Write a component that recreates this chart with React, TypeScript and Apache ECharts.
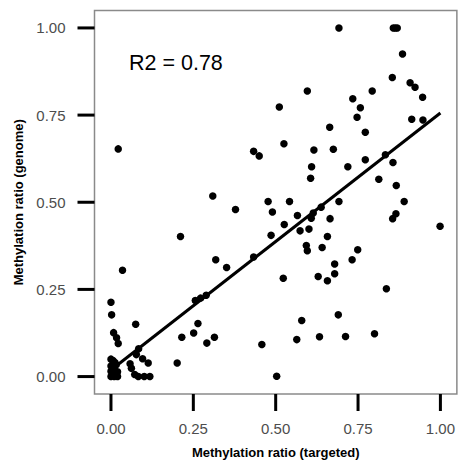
import React, { useEffect, useRef } from "react";
import * as echarts from "echarts";

// Methylation ratio (targeted) — x values
const targeted = [
  0.022, 0.309, 0.596, 0.511, 0.664, 0.433, 0.45, 0.525, 0.616, 0.675, 0.609, 0.606, 0.477, 0.542,
  0.692, 0.857, 0.863, 0.869, 0.885, 0.854, 0.908, 0.923, 0.946, 0.793, 0.734, 0.757, 0.747, 0.913,
  0.947, 0.772, 0.833, 0.772, 0.856, 0.719, 0.813, 0.866, 0.692, 0.89, 0.378,
  0.49, 0.566, 0.614, 0.608, 0.638, 0.665, 0.526, 0.486, 0.574, 0.601, 0.657, 0.593, 0.596, 0.641,
  0.433, 0.318, 0.351, 0.523, 0.629, 0.657, 0.679, 0.679, 0.579, 0.458, 0.564, 0.633, 0.503, 0.69,
  0.865, 0.855, 0.999, 0.749, 0.732, 0.836, 0.712, 0.8,
  0.211, 0.035, 0.0, 0.002, 0.075, 0.008, 0.017, 0.022, 0.256, 0.272, 0.289, 0.264, 0.215, 0.251,
  0.291, 0.314, 0.201, 0.084, 0.077, 0.096, 0.113, 0.058, 0.062, 0.072, 0.083, 0.101, 0.118,
  0.0, 0.006, 0.012, 0.016, 0.0, 0.01, 0.0, 0.02, 0.006, 0.0, 0.01, 0.02, 0.014, 0.004,
];

// Methylation ratio (genome) — y values
const genome = [
  0.653, 0.518, 0.819, 0.773, 0.715, 0.646, 0.633, 0.668, 0.65, 0.652, 0.602, 0.569, 0.502, 0.502,
  1.0, 1.0, 1.0, 1.0, 0.925, 0.858, 0.843, 0.83, 0.801, 0.819, 0.797, 0.771, 0.744, 0.738,
  0.736, 0.701, 0.636, 0.622, 0.614, 0.602, 0.566, 0.548, 0.502, 0.502, 0.479,
  0.472, 0.462, 0.469, 0.454, 0.486, 0.453, 0.436, 0.405, 0.418, 0.423, 0.402, 0.376, 0.361, 0.37,
  0.343, 0.335, 0.313, 0.282, 0.287, 0.275, 0.323, 0.295, 0.161, 0.092, 0.106, 0.114, 0.001, 0.177,
  0.467, 0.453, 0.431, 0.364, 0.335, 0.252, 0.115, 0.123,
  0.402, 0.305, 0.213, 0.177, 0.15, 0.126, 0.111, 0.095, 0.218, 0.225, 0.233, 0.152, 0.113, 0.125,
  0.096, 0.113, 0.039, 0.08, 0.063, 0.051, 0.039, 0.037, 0.024, 0.006, 0.0, 0.0, 0.0,
  0.05, 0.046, 0.04, 0.034, 0.03, 0.024, 0.015, 0.014, 0.006, 0.0, 0.0, 0.0, 0.006, 0.02,
];

// Linear fit line endpoints
const fitX = [0, 1];
const fitY = [0.019, 0.756];

const tickValues = [0, 0.25, 0.5, 0.75, 1];
const axisMin = -0.05;
const axisMax = 1.05;
const r2Label = "R2 = 0.78";
const xTitle = "Methylation ratio (targeted)";
const yTitle = "Methylation ratio (genome)";

const FONT = "'Liberation Sans', Arial, Helvetica, sans-serif";
const BORDER = "#8a8a8a";
const TICK_LEN = 17;
const TICK_W = 3;
const GRID = { left: 94.5, right: 1, top: 10.5, bottom: 71 };

export default function App() {
  const ref = useRef<HTMLDivElement>(null);

  useEffect(() => {
    if (!ref.current) return;
    const chart = echarts.init(ref.current, undefined, { renderer: "svg" });
    const points = targeted.map((x, i) => [x, genome[i]]);
    const fit = fitX.map((x, i) => [x, fitY[i]]);

    const axisCommon = {
      type: "value" as const,
      min: axisMin,
      max: axisMax,
      axisLine: { show: false, onZero: false },
      splitLine: { show: false },
      axisTick: { show: false },
      axisLabel: {
        show: true,
        customValues: tickValues,
        formatter: (v: number) => v.toFixed(2),
        color: "#4d4d4d",
        fontSize: 15,
        fontFamily: FONT,
      },
      nameLocation: "middle" as const,
      nameTextStyle: {
        color: "#000",
        fontSize: 13,
        fontWeight: "bold" as const,
        fontFamily: FONT,
      },
    };

    const r2Text = {
      id: "r2",
      type: "text",
      left: 129,
      top: 52,
      style: {
        text: r2Label,
        fill: "#000",
        fontSize: 21.5,
        fontFamily: FONT,
      },
    };

    chart.setOption({
      animation: false,
      backgroundColor: "#fff",
      grid: {
        ...GRID,
        show: true,
        borderColor: BORDER,
        borderWidth: 1.5,
        backgroundColor: "#fff",
      },
      xAxis: {
        ...axisCommon,
        name: xTitle,
        nameGap: 52,
        axisLabel: { ...axisCommon.axisLabel, margin: 27 },
      },
      yAxis: {
        ...axisCommon,
        name: yTitle,
        nameGap: 70,
        axisLabel: { ...axisCommon.axisLabel, margin: 29 },
      },
      graphic: [r2Text],
      series: [
        {
          type: "scatter",
          data: points,
          symbol: "circle",
          symbolSize: 7.5,
          itemStyle: { color: "#000", opacity: 1 },
          silent: true,
        },
        {
          type: "line",
          data: fit,
          showSymbol: false,
          symbol: "none",
          lineStyle: { color: "#000", width: 3 },
          silent: true,
        },
      ],
    });

    // pixel position of a data point, through the chart's own axes
    const W = chart.getWidth();
    const H = chart.getHeight();
    const toPixel = (x: number, y: number): number[] => {
      try {
        const p = chart.convertToPixel({ gridIndex: 0 }, [x, y]) as number[];
        if (p && isFinite(p[0]) && isFinite(p[1])) return p;
      } catch (e) {
        /* fall through */
      }
      const gw = W - GRID.left - GRID.right;
      const gh = H - GRID.top - GRID.bottom;
      return [
        GRID.left + ((x - axisMin) / (axisMax - axisMin)) * gw,
        GRID.top + ((axisMax - y) / (axisMax - axisMin)) * gh,
      ];
    };

    const ticks: any[] = [];
    tickValues.forEach((v, i) => {
      const px = toPixel(v, axisMin);
      ticks.push({
        id: "xt" + i,
        type: "rect",
        z: 50,
        silent: true,
        shape: { x: px[0] - TICK_W / 2, y: px[1], width: TICK_W, height: TICK_LEN },
        style: { fill: "#000" },
      });
      const py = toPixel(axisMin, v);
      ticks.push({
        id: "yt" + i,
        type: "rect",
        z: 50,
        silent: true,
        shape: { x: py[0] - TICK_LEN, y: py[1] - TICK_W / 2, width: TICK_LEN, height: TICK_W },
        style: { fill: "#000" },
      });
    });
    try {
      chart.setOption({ graphic: [r2Text, ...ticks] });
    } catch (e) {
      /* keep chart as drawn */
    }

    return () => chart.dispose();
  }, []);

  return (
    <div
      ref={ref}
      style={{ position: "fixed", left: 0, top: 0, width: 458, height: 465 }}
    />
  );
}
